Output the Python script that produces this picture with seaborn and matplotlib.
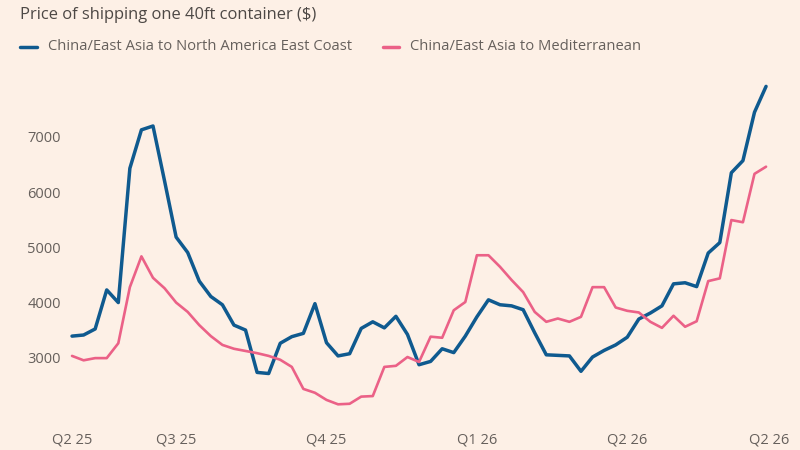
import numpy as np
import pandas as pd
import matplotlib
matplotlib.use("Agg")
import matplotlib.pyplot as plt
import seaborn as sns

na_east_coast = [3380, 3400, 3510, 4220, 3990, 6430, 7130, 7200, 6200, 5180,
                 4900, 4380, 4100, 3950, 3580, 3490, 2720, 2700, 3250, 3370,
                 3430, 3970, 3260, 3020, 3060, 3520, 3640, 3530, 3740, 3410,
                 2860, 2920, 3150, 3080, 3380, 3730, 4040, 3950, 3930, 3860,
                 3440, 3040, 3030, 3020, 2740, 3000, 3120, 3220, 3360, 3690,
                 3800, 3930, 4330, 4350, 4280, 4890, 5080, 6350, 6570, 7450,
                 7920]
mediterranean = [3020, 2940, 2980, 2980, 3250, 4270, 4830, 4440, 4250, 3990,
                 3820, 3580, 3380, 3220, 3150, 3110, 3070, 3020, 2950, 2820,
                 2420, 2350, 2220, 2140, 2150, 2280, 2290, 2820, 2840, 3000,
                 2910, 3370, 3350, 3850, 4000, 4850, 4850, 4640, 4400, 4180,
                 3820, 3640, 3700, 3640, 3730, 4270, 4270, 3900, 3840, 3810,
                 3640, 3530, 3750, 3550, 3650, 4380, 4430, 5490, 5450, 6330,
                 6460]
series_names = ["China/East Asia to North America East Coast",
                "China/East Asia to Mediterranean"]
tick_positions = [0, 9, 22, 35, 48, 60.3]
tick_labels = ["Q2 25", "Q3 25", "Q4 25", "Q1 26", "Q2 26", "Q2 26"]
y_ticks = [3000, 4000, 5000, 6000, 7000]

weeks = np.arange(len(na_east_coast))
df = pd.DataFrame({
    "week": np.concatenate([weeks, weeks]),
    "price": na_east_coast + mediterranean,
    "route": [series_names[0]] * len(weeks) + [series_names[1]] * len(weeks),
})

bg = "#FDF0E6"
blue = "#0F5A8F"
pink = "#EB6187"
text_col = "#66605C"

sns.set_theme(style="white")
plt.rcParams["font.family"] = ["Open Sans", "DejaVu Sans"]

fig = plt.figure(figsize=(8, 4.5), dpi=100, facecolor=bg)
ax = fig.add_axes([0.0828, 0.0844, 0.882, 0.7334], facecolor=bg)

sns.lineplot(data=df, x="week", y="price", hue="route",
             palette={series_names[0]: blue, series_names[1]: pink},
             ax=ax, legend=False)
for line, lw in zip(ax.lines, [2.5, 1.9]):
    line.set_linewidth(lw)

ax.set_xlim(-0.5, 60.5)
ax.set_ylim(2000, 8000)
ax.set_xticks(tick_positions)
ax.set_xticklabels(tick_labels)
ax.set_yticks(y_ticks)
ax.set_yticklabels([str(v) for v in y_ticks])
ax.tick_params(axis="both", length=0, labelsize=10.5, colors=text_col)
ax.tick_params(axis="x", pad=15)
ax.tick_params(axis="y", pad=4)
ax.set_xlabel("")
ax.set_ylabel("")
for s in ax.spines.values():
    s.set_visible(False)
ax.grid(False)

fig.text(20 / 800, 1 - 15 / 450, "Price of shipping one 40ft container ($)",
         fontsize=11.9, color="#4D4845", va="center", ha="left")

# legend
ly = 1 - 47 / 450
fig.lines.append(plt.Line2D([20 / 800, 37 / 800], [ly, ly], color=blue, lw=2.5,
                            transform=fig.transFigure))
fig.text(48 / 800, ly, series_names[0], fontsize=10.6, color=text_col,
         va="center", ha="left")
fig.lines.append(plt.Line2D([383 / 800, 399 / 800], [ly, ly], color=pink, lw=2.5,
                            transform=fig.transFigure))
fig.text(410 / 800, ly, series_names[1], fontsize=10.6, color=text_col,
         va="center", ha="left")

fig.savefig("out.png", dpi=100, facecolor=bg)
